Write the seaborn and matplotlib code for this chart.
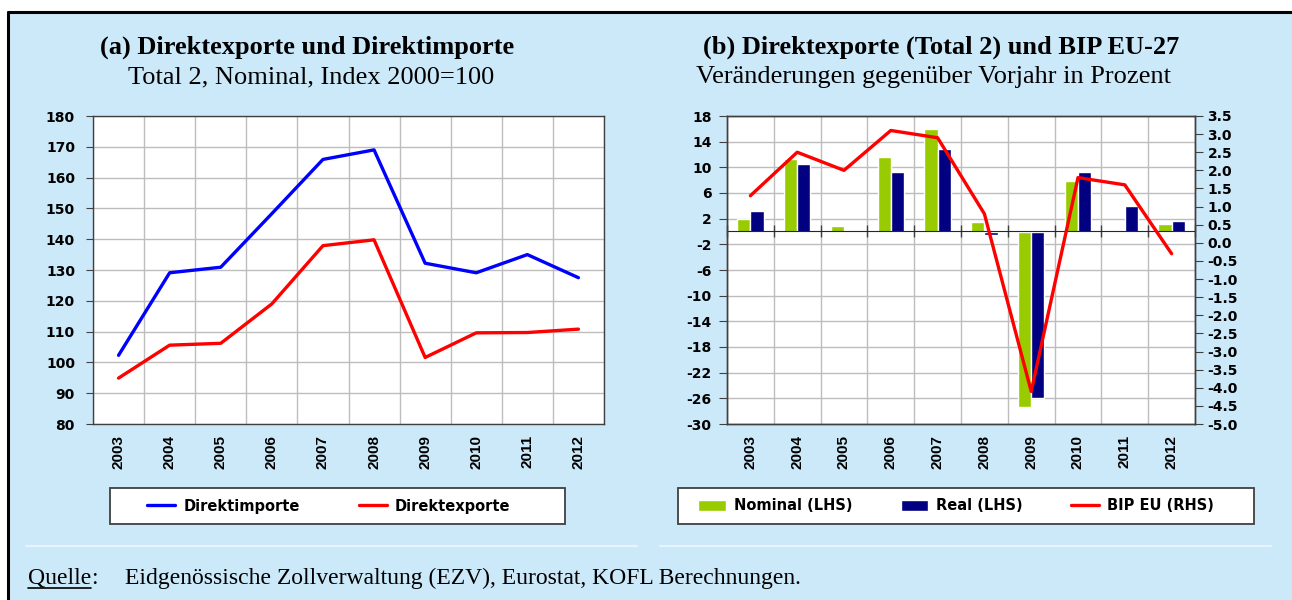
import numpy as np
import pandas as pd
import matplotlib
matplotlib.use("Agg")
import matplotlib.pyplot as plt
import seaborn as sns
from matplotlib.patches import Rectangle
from matplotlib.lines import Line2D

# ---------------- data ----------------
years = ["2003", "2004", "2005", "2006", "2007", "2008", "2009", "2010", "2011", "2012"]
direktimporte = [102.3, 129.1, 130.9, 148.3, 165.9, 169.0, 132.2, 129.1, 135.0, 127.5]
direktexporte = [94.9, 105.6, 106.2, 119.0, 137.9, 139.8, 101.6, 109.6, 109.7, 110.8]
nominal = [2.0, 11.3, 0.8, 11.6, 16.0, 1.5, -27.4, 7.9, 0.15, 1.2]
real = [3.2, 10.45, 0.0, 9.25, 12.8, -0.55, -26.0, 9.25, 3.9, 1.65]
bip_eu = [1.3, 2.5, 2.0, 3.1, 2.9, 0.8, -4.1, 1.8, 1.6, -0.3]

left_yticks = list(range(80, 181, 10))
right_lticks = list(range(-30, 19, 4))
right_rticks = list(np.arange(-5.0, 3.51, 0.5))

title_a = "(a) Direktexporte und Direktimporte"
sub_a = "Total 2, Nominal, Index 2000=100"
title_b = "(b) Direktexporte (Total 2) und BIP EU-27"
sub_b = "Veränderungen gegenüber Vorjahr in Prozent"
source_label = "Quelle"
source_text = "Eidgenössische Zollverwaltung (EZV), Eurostat, KOFL Berechnungen."

# ---------------- style ----------------
sns.set_style("white")
plt.rcParams["font.family"] = ["DejaVu Sans"]
plt.rcParams["font.weight"] = "bold"
plt.rcParams["axes.unicode_minus"] = False
plt.rcParams["text.color"] = "black"
plt.rcParams["xtick.labelcolor"] = "black"
plt.rcParams["ytick.labelcolor"] = "black"

BG = "#CCE9FA"
GRID = "#BDBDBD"
SPINE = "#404040"
YTICK_FS = 10
XTICK_FS = 11
LEG_FS = 10.5
XFONT = ["Liberation Sans", "DejaVu Sans"]

W, H = 1292, 600
fig = plt.figure(figsize=(W / 100, H / 100), dpi=100)
fig.patch.set_facecolor("white")

# background panel and border
fig.add_artist(Rectangle((8 / W, 0), 1 - 8 / W, (H - 12) / H, transform=fig.transFigure,
                         facecolor=BG, edgecolor="none", zorder=-10))
fig.add_artist(Line2D([8 / W, 1], [1 - 12 / H, 1 - 12 / H], transform=fig.transFigure,
                      color="black", lw=2.2))
fig.add_artist(Line2D([8 / W, 8 / W], [0, 1 - 12 / H], transform=fig.transFigure,
                      color="black", lw=2.2))
# faint separators above the source line
fig.add_artist(Line2D([26 / W, 637 / W], [1 - 546 / H] * 2, transform=fig.transFigure,
                      color="#E6F4FD", lw=1.5))
fig.add_artist(Line2D([660 / W, 1271 / W], [1 - 546 / H] * 2, transform=fig.transFigure,
                      color="#E6F4FD", lw=1.5))

pos = np.arange(len(years))
bounds = np.arange(-0.5, len(years), 1.0)


def style_spines(ax):
    for s in ax.spines.values():
        s.set_color(SPINE)
        s.set_linewidth(1)


def style_xlabels(ax):
    for lab in ax.get_xticklabels():
        lab.set_family(XFONT)
        lab.set_fontsize(XTICK_FS)
        lab.set_fontweight("bold")


def legend_box(x0, y0, x1, y1):
    fig.add_artist(Rectangle((x0 / W, 1 - y1 / H), (x1 - x0) / W, (y1 - y0) / H,
                             transform=fig.transFigure, facecolor="white",
                             edgecolor=SPINE, lw=1.3, zorder=1))


# ---------------- panel (a) ----------------
ax1 = fig.add_axes([93 / W, 1 - 424 / H, 511 / W, 308 / H])
df_a = pd.DataFrame({
    "pos": np.concatenate([pos, pos]),
    "value": direktimporte + direktexporte,
    "series": ["Direktimporte"] * len(years) + ["Direktexporte"] * len(years),
})
sns.lineplot(data=df_a, x="pos", y="value", hue="series",
             palette={"Direktimporte": "#0000FF", "Direktexporte": "#FF0000"},
             linewidth=2.4, ax=ax1)
h1, l1 = ax1.get_legend_handles_labels()
ax1.get_legend().remove()

ax1.set_facecolor("white")
ax1.set_xlim(-0.5, len(years) - 0.5)
ax1.set_ylim(80, 180)
ax1.set_yticks(left_yticks)
ax1.set_xticks(pos)
ax1.set_xticklabels(years, rotation=90)
ax1.set_xticks(bounds, minor=True)
ax1.set_xlabel("")
ax1.set_ylabel("")
ax1.grid(False)
ax1.grid(True, axis="y", which="major", color=GRID, lw=1)
ax1.grid(True, axis="x", which="minor", color=GRID, lw=1)
ax1.set_axisbelow(True)
ax1.tick_params(axis="x", which="major", length=0, pad=8)
ax1.tick_params(axis="x", which="minor", length=5, direction="out", color=SPINE)
ax1.tick_params(axis="y", which="major", length=5, direction="out", color=SPINE,
                labelsize=YTICK_FS, pad=8, left=True)
style_xlabels(ax1)
style_spines(ax1)

legend_box(110, 488, 565, 524)
leg1 = fig.legend(h1, l1, loc="center", bbox_to_anchor=(329 / W, 1 - 506 / H),
                  ncol=2, frameon=False, fontsize=LEG_FS, handlelength=1.9,
                  handletextpad=0.55, columnspacing=4.1, borderaxespad=0)
leg1.set_zorder(2)

# ---------------- panel (b) ----------------
ax2 = fig.add_axes([727 / W, 1 - 424 / H, 468 / W, 308 / H])
df_b = pd.DataFrame({
    "year": years + years,
    "value": nominal + real,
    "series": ["Nominal (LHS)"] * len(years) + ["Real (LHS)"] * len(years),
})
sns.barplot(data=df_b, x="year", y="value", hue="series",
            palette={"Nominal (LHS)": "#99CC00", "Real (LHS)": "#000080"},
            width=0.56, saturation=1, errorbar=None, ax=ax2)
h2, l2 = ax2.get_legend_handles_labels()
ax2.get_legend().remove()

ax2.set_facecolor("white")
ax2.set_xlim(-0.5, len(years) - 0.5)
ax2.set_ylim(-30, 18)
ax2.set_yticks(right_lticks)
ax2.set_xticks(pos)
ax2.set_xticklabels(years, rotation=90)
ax2.set_xticks(bounds, minor=True)
ax2.set_xlabel("")
ax2.set_ylabel("")
ax2.grid(False)
ax2.grid(True, axis="y", which="major", color=GRID, lw=1)
ax2.grid(True, axis="x", which="minor", color=GRID, lw=1)
ax2.set_axisbelow(True)
ax2.tick_params(axis="x", which="both", length=0, pad=8)
ax2.tick_params(axis="y", which="major", length=6, direction="out", color=SPINE,
                labelsize=YTICK_FS, pad=5, left=True)
style_xlabels(ax2)
style_spines(ax2)

# category axis crossing at zero
zero_frac = (0 - (-30)) / (18 - (-30))
sec = ax2.secondary_xaxis(zero_frac)
sec.set_xticks(bounds)
sec.tick_params(axis="x", direction="inout", length=8, width=1, color=SPINE,
                labelbottom=False, labeltop=False)
sec.spines["bottom"].set_color(SPINE)
sec.spines["bottom"].set_linewidth(1.3)
sec.set_zorder(3)

ax3 = ax2.twinx()
sns.lineplot(x=pos, y=bip_eu, color="#FF0000", linewidth=2.4, ax=ax3, label="BIP EU (RHS)")
h3, l3 = ax3.get_legend_handles_labels()
ax3.get_legend().remove()
ax3.set_ylim(-5.0, 3.5)
ax3.set_yticks(right_rticks)
ax3.set_yticklabels([f"{v:.1f}" for v in right_rticks])
ax3.set_ylabel("")
ax3.grid(False)
ax3.tick_params(axis="y", length=6, direction="out", color=SPINE, labelsize=YTICK_FS, pad=3)
style_spines(ax3)

legend_box(678, 488, 1254, 524)
leg2 = fig.legend(h2 + h3, l2 + l3, loc="center", bbox_to_anchor=(956 / W, 1 - 506 / H),
                  ncol=3, frameon=False, fontsize=LEG_FS, handlelength=1.9,
                  handletextpad=0.55, columnspacing=3.3, borderaxespad=0)
leg2.set_zorder(2)

# ---------------- titles ----------------
serif = ["Liberation Serif", "DejaVu Serif"]
fig.text(307.5 / W, 1 - 47 / H, title_a, ha="center", va="center", family=serif,
         weight="bold", fontsize=19)
fig.text(311 / W, 1 - 77 / H, sub_a, ha="center", va="center", family=serif,
         weight="normal", fontsize=19)
fig.text(941 / W, 1 - 47 / H, title_b, ha="center", va="center", family=serif,
         weight="bold", fontsize=19)
fig.text(934 / W, 1 - 77 / H, sub_b, ha="center", va="center", family=serif,
         weight="normal", fontsize=19)

# ---------------- source ----------------
t_q = fig.text(28 / W, 1 - 578 / H, source_label, ha="left", va="center", family=serif,
               weight="normal", fontsize=17)
fig.canvas.draw()
bb = t_q.get_window_extent(renderer=fig.canvas.get_renderer())
x0, x1 = bb.x0 / W, bb.x1 / W
fig.text(x1, 1 - 578 / H, ":", ha="left", va="center", family=serif, weight="normal",
         fontsize=17)
fig.add_artist(Line2D([x0, x1], [bb.y0 / H + 1 / H] * 2, transform=fig.transFigure,
                      color="black", lw=1.2))
fig.text(125 / W, 1 - 578 / H, source_text, ha="left", va="center", family=serif,
         weight="normal", fontsize=17)

fig.savefig("out.png", dpi=100, facecolor=fig.get_facecolor())
